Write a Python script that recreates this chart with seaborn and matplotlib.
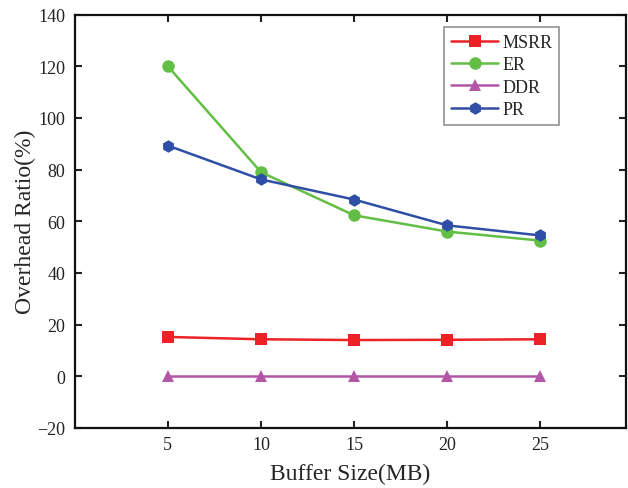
import matplotlib
matplotlib.use("Agg")
import matplotlib.pyplot as plt
import pandas as pd
import seaborn as sns

# values
buffer_sizes = [5, 10, 15, 20, 25]
msrr = [15.2, 14.3, 14.0, 14.1, 14.3]
er = [120.0, 79.0, 62.3, 56.0, 52.5]
ddr = [0.0, 0.0, 0.0, 0.0, 0.0]
pr = [89.3, 76.2, 68.4, 58.4, 54.5]

series_names = ["MSRR", "ER", "DDR", "PR"]
colors = {"MSRR": "#EC2226", "ER": "#62BE45", "DDR": "#B456A8", "PR": "#2F4FA6"}
markers = {"MSRR": "s", "ER": "o", "DDR": "^", "PR": "h"}

df = pd.DataFrame({
    "Buffer Size": buffer_sizes * 4,
    "Overhead": msrr + er + ddr + pr,
    "Method": [n for n in series_names for _ in buffer_sizes],
})

sns.set_style("ticks")
plt.rcParams["font.family"] = ["Liberation Serif", "DejaVu Serif"]

fig = plt.figure(figsize=(6.28, 4.89), dpi=100)
ax = fig.add_axes([0.119, 0.123, 0.878, 0.845])

sns.lineplot(data=df, x="Buffer Size", y="Overhead", hue="Method", style="Method",
             hue_order=series_names, style_order=series_names,
             palette=colors, markers=markers, dashes=False,
             markersize=9, markeredgewidth=0, linewidth=1.8, ax=ax)

ax.set_xlim(0, 29.6)
ax.set_ylim(-20, 140)
ax.set_xticks(buffer_sizes)
ax.set_yticks(range(-20, 141, 20))
ax.set_yticklabels(["\u221220"] + [str(v) for v in range(0, 141, 20)])
ax.tick_params(direction="in", top=True, right=True, length=5, width=1.5,
               labelsize=13, colors="#222222")
ax.tick_params(axis="x", pad=6)
ax.tick_params(axis="y", pad=7)
for side in ax.spines.values():
    side.set_linewidth(1.6)
    side.set_color("#111111")

ax.set_xlabel("Buffer Size(MB)", fontsize=17, labelpad=7)
ax.set_ylabel("Overhead Ratio(%)", fontsize=17, labelpad=1)

leg = ax.legend(loc="upper right", bbox_to_anchor=(0.879, 0.971), borderaxespad=0,
                fontsize=13, frameon=True, fancybox=False, edgecolor="#777777",
                handlelength=2.6, borderpad=0.4, labelspacing=0.3, handletextpad=0.2)
leg.get_frame().set_linewidth(1.2)

fig.savefig("out.png", dpi=100)
